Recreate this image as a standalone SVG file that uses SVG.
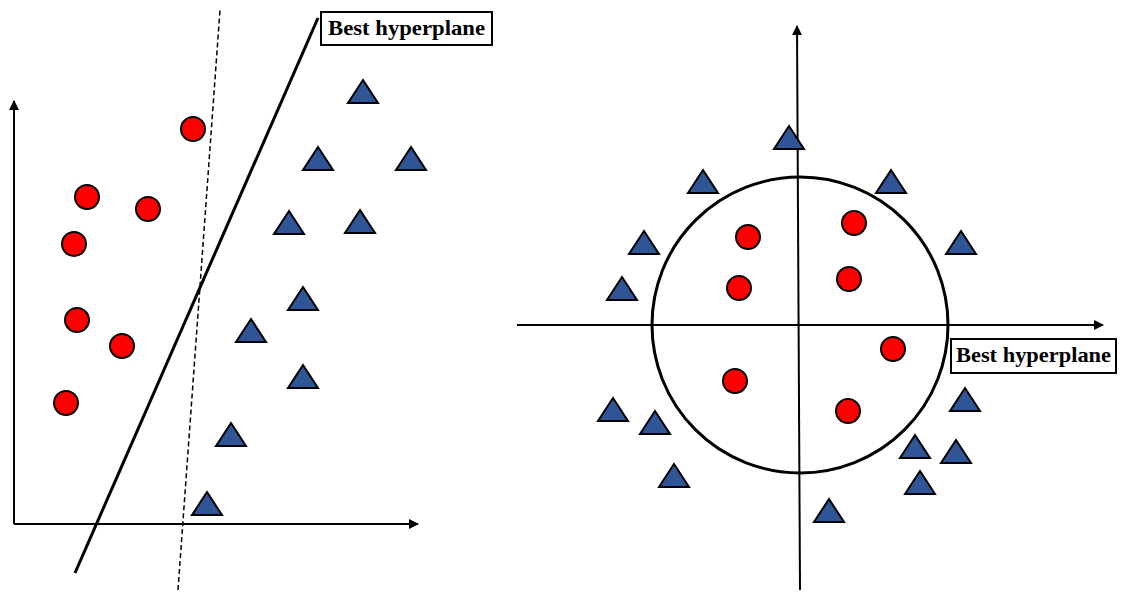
<svg xmlns="http://www.w3.org/2000/svg" xmlns:xlink="http://www.w3.org/1999/xlink" width="1125" height="596" viewBox="0 0 1125 596">
<style>
.axis{stroke:#000;stroke-width:2;fill:none}
.pt{fill:#FF0000;stroke:#000;stroke-width:2}
.tr{fill:#2F5597;stroke:#000;stroke-width:2;stroke-linejoin:miter}
.lbl{fill:#fff;stroke:#000;stroke-width:2}
.txt{font-family:"Liberation Serif",serif;font-weight:bold;font-size:22px;fill:#000}
</style>
<defs>
<marker id="ah" viewBox="0 0 10 10" refX="9" refY="5" markerWidth="5" markerHeight="5" orient="auto" markerUnits="strokeWidth">
<path d="M0,0 L10,5 L0,10 z" fill="#000"/>
</marker>
<polygon id="tri" points="0,-12 15,11 -15,11"/>
</defs>
<rect width="1125" height="596" fill="#fff"/>
<g id="connectors">
<line class="axis" x1="14" y1="524" x2="14" y2="101" marker-end="url(#ah)"/>
<line class="axis" x1="14" y1="524" x2="418" y2="524" marker-end="url(#ah)"/>
<line x1="75" y1="573" x2="318" y2="18" stroke="#000" stroke-width="3"/>
<line x1="178" y1="590" x2="220" y2="10" stroke="#000" stroke-width="1.5" stroke-dasharray="5,3"/>
<line class="axis" x1="517" y1="325" x2="1103" y2="325" marker-end="url(#ah)"/>
<line class="axis" x1="800" y1="590" x2="797" y2="26" marker-end="url(#ah)"/>
<circle cx="800" cy="325" r="148" fill="none" stroke="#000" stroke-width="3"/>
</g>
<g id="label-left">
<rect class="lbl" x="321" y="12" width="171" height="33"/>
<text class="txt" x="406.5" y="35" text-anchor="middle" textLength="157" lengthAdjust="spacingAndGlyphs">Best hyperplane</text>
</g>
<g id="label-right">
<rect class="lbl" x="951" y="339" width="165" height="34"/>
<text class="txt" x="1033.5" y="362" text-anchor="middle" textLength="155" lengthAdjust="spacingAndGlyphs">Best hyperplane</text>
</g>
<g id="left-circles">
<circle class="pt" cx="193" cy="129" r="12"/>
<circle class="pt" cx="87" cy="197" r="12"/>
<circle class="pt" cx="148" cy="209" r="12"/>
<circle class="pt" cx="74" cy="244" r="12"/>
<circle class="pt" cx="77" cy="320" r="12"/>
<circle class="pt" cx="122" cy="346" r="12"/>
<circle class="pt" cx="66" cy="403" r="12"/>
</g>
<g id="left-triangles" class="tr">
<use xlink:href="#tri" x="363" y="92"/>
<use xlink:href="#tri" x="318" y="159"/>
<use xlink:href="#tri" x="411" y="159"/>
<use xlink:href="#tri" x="289" y="223"/>
<use xlink:href="#tri" x="360" y="222"/>
<use xlink:href="#tri" x="303" y="299"/>
<use xlink:href="#tri" x="251" y="331"/>
<use xlink:href="#tri" x="303" y="377"/>
<use xlink:href="#tri" x="231" y="435"/>
<use xlink:href="#tri" x="207" y="504"/>
</g>
<g id="right-circles">
<circle class="pt" cx="748" cy="237" r="12"/>
<circle class="pt" cx="854" cy="223" r="12"/>
<circle class="pt" cx="739" cy="288" r="12"/>
<circle class="pt" cx="849" cy="279" r="12"/>
<circle class="pt" cx="893" cy="349" r="12"/>
<circle class="pt" cx="735" cy="381" r="12"/>
<circle class="pt" cx="848" cy="411" r="12"/>
</g>
<g id="right-triangles" class="tr">
<use xlink:href="#tri" x="789" y="138"/>
<use xlink:href="#tri" x="703" y="182"/>
<use xlink:href="#tri" x="891" y="182"/>
<use xlink:href="#tri" x="644" y="243"/>
<use xlink:href="#tri" x="961" y="243"/>
<use xlink:href="#tri" x="622" y="289"/>
<use xlink:href="#tri" x="965" y="400"/>
<use xlink:href="#tri" x="613" y="410"/>
<use xlink:href="#tri" x="655" y="423"/>
<use xlink:href="#tri" x="915" y="447"/>
<use xlink:href="#tri" x="956" y="452"/>
<use xlink:href="#tri" x="674" y="476"/>
<use xlink:href="#tri" x="920" y="483"/>
<use xlink:href="#tri" x="829" y="511"/>
</g>
</svg>
